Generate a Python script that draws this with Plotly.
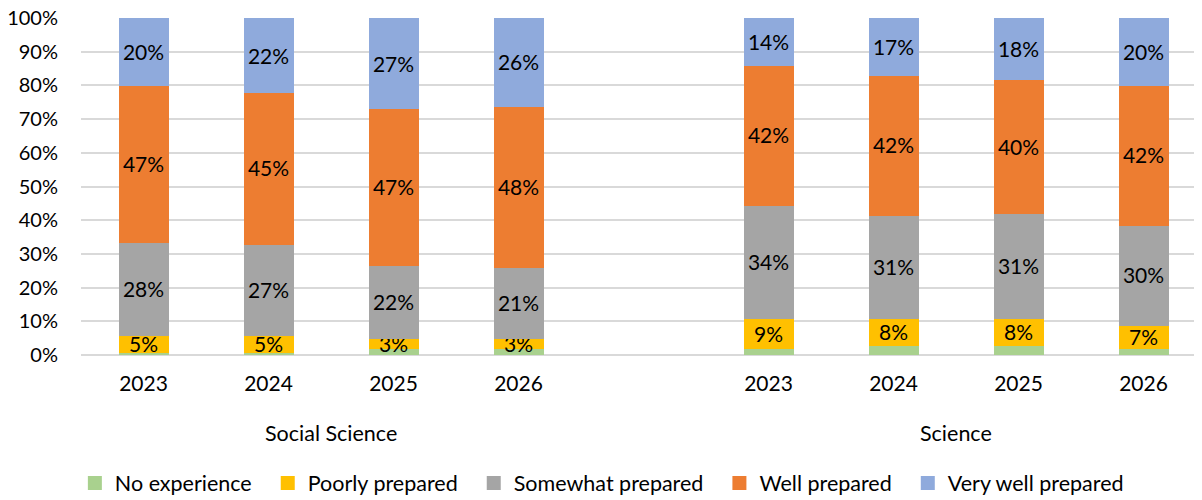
import plotly.graph_objects as go

years = ["2023", "2024", "2025", "2026"]
groups = ["Social Science", "Science"]
series = ["No experience", "Poorly prepared", "Somewhat prepared", "Well prepared", "Very well prepared"]
colors = ["#A9D18E", "#FFC000", "#A5A5A5", "#ED7D31", "#8FAADC"]

# values per series: Social Science 2023-2026, then Science 2023-2026
no_experience = [1, 1, 2, 2, 2, 3, 3, 2]
poorly_prepared = [5, 5, 3, 3, 9, 8, 8, 7]
somewhat_prepared = [28, 27, 22, 21, 34, 31, 31, 30]
well_prepared = [47, 45, 47, 48, 42, 42, 40, 42]
very_well_prepared = [20, 22, 27, 26, 14, 17, 18, 20]
show_labels = [False, True, True, True, True]

values = [no_experience, poorly_prepared, somewhat_prepared, well_prepared, very_well_prepared]

# x positions: group 1 at 0..3, empty slot at 4, group 2 at 5..8
xpos = [i for i in range(len(years))] + [i + len(years) + 1 for i in range(len(years))]
ticktext = years + years

FONT = "Lato"
PAD = "\u00a0\u00a0"  # extra legend spacing after each entry

fig = go.Figure()
for name, col, vals, lab in zip(series, colors, values, show_labels):
    fig.add_trace(go.Bar(
        x=xpos, y=vals, name=name + PAD,
        marker=dict(color=col, line=dict(width=2, color=col)),
        width=0.384,
        text=[f"{v}%" for v in vals] if lab else None,
        textposition="inside" if lab else "none",
        insidetextanchor="middle",
        textangle=0,
        constraintext="none",
        textfont=dict(color="black", size=21, family=FONT),
    ))

for gi, g in enumerate(groups):
    gx = xpos[gi * len(years):(gi + 1) * len(years)]
    fig.add_annotation(x=sum(gx) / len(gx), y=-0.2304, xref="x", yref="paper",
                       text=g, showarrow=False, yanchor="middle",
                       font=dict(size=21.5, family=FONT, color="black"))

fig.update_layout(
    barmode="stack", barnorm="percent",
    width=1194, height=492,
    margin=dict(l=73, r=0, t=10, b=145, autoexpand=False),
    plot_bgcolor="white", paper_bgcolor="white",
    font=dict(family=FONT, size=21, color="black"),
    showlegend=True,
    legend=dict(orientation="h", x=0.056, xanchor="left", xref="container",
                y=0.0346, yanchor="middle", yref="container",
                font=dict(size=21.5, family=FONT), itemwidth=30,
                traceorder="normal"),
    xaxis=dict(range=[-0.5, 8.468], tickvals=xpos, ticktext=ticktext,
               showgrid=False, zeroline=False, showline=False, ticks="",
               ticklabelstandoff=14, automargin=False,
               tickfont=dict(size=21, family=FONT)),
    yaxis=dict(range=[0, 100], dtick=10, ticksuffix="%", showgrid=True,
               gridcolor="#D9D9D9", gridwidth=1.5, zeroline=True,
               zerolinecolor="#D9D9D9", zerolinewidth=1.5, ticks="",
               ticklabeloverflow="allow", automargin=False,
               ticklabelstandoff=22, tickfont=dict(size=20, family=FONT)),
)

fig.write_html("out.html")
